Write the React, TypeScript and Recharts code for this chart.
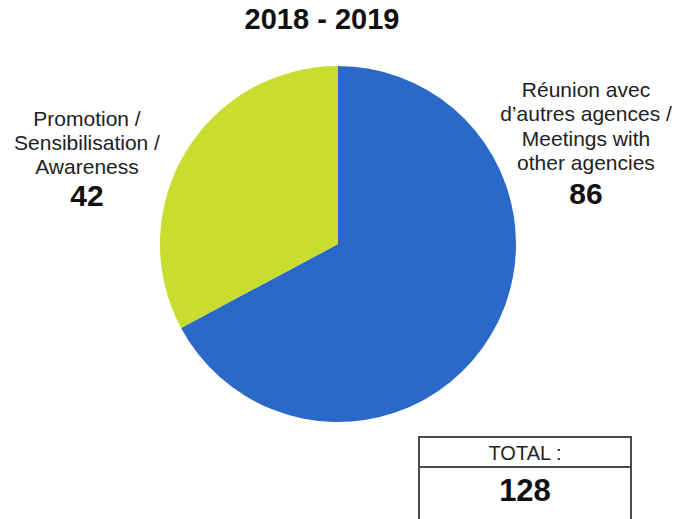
import { PieChart, Pie, Cell } from 'recharts';

const categories = [
  ['Réunion avec', 'd’autres agences /', 'Meetings with', 'other agencies'],
  ['Promotion /', 'Sensibilisation /', 'Awareness'],
];
const values = [86, 42];
const colors = ['#2B69C9', '#C9DC30'];
const title = '2018 - 2019';
const totalLabel = 'TOTAL :';

const data = categories.map((lines, i) => ({ name: lines.join(' '), lines, value: values[i] }));
const total = values.reduce((a, b) => a + b, 0);

// where each slice's text block sits (first baseline, number baseline)
const labelPos = [
  { x: 586, y: 97, step: 24.3, numY: 204 },
  { x: 87, y: 126, step: 24, numY: 206 },
];

const font = 'Liberation Sans, Arial, sans-serif';

function renderLabel(props: any) {
  const i = props.index;
  const p = labelPos[i];
  const lines: string[] = data[i].lines;
  return (
    <g key={i}>
      {lines.map((l, k) => (
        <text key={k} x={p.x} y={p.y + k * p.step} textAnchor="middle" fontFamily={font} fontSize={21} fill="#222">
          {l}
        </text>
      ))}
      <text x={p.x} y={p.numY} textAnchor="middle" fontFamily={font} fontSize={30} fontWeight="bold" fill="#111">
        {data[i].value}
      </text>
    </g>
  );
}

export default function App() {
  return (
    <div style={{ position: 'absolute', left: 0, top: 0, width: 690, height: 519, background: '#fff', fontFamily: font, overflow: 'hidden' }}>
      <div style={{ position: 'absolute', left: 0, width: 644, top: 3, textAlign: 'center', fontSize: 29, fontWeight: 'bold', color: '#111' }}>
        {title}
      </div>
      <PieChart width={690} height={519}>
        <Pie
          data={data}
          dataKey="value"
          nameKey="name"
          cx={333}
          cy={239}
          outerRadius={178}
          startAngle={90}
          endAngle={-270}
          stroke="none"
          label={renderLabel}
          labelLine={false}
          isAnimationActive={false}
        >
          {data.map((d, i) => (
            <Cell key={d.name} fill={colors[i]} />
          ))}
        </Pie>
      </PieChart>
      <div style={{ position: 'absolute', left: 418, top: 436, width: 214, height: 90, border: '2px solid #4a4a4a', boxSizing: 'border-box' }}>
        <div style={{ height: 28, borderBottom: '2px solid #4a4a4a', textAlign: 'center', fontSize: 20, lineHeight: '30px', color: '#222' }}>
          {totalLabel}
        </div>
        <div style={{ textAlign: 'center', fontSize: 31, fontWeight: 'bold', lineHeight: '46px', color: '#111' }}>{total}</div>
      </div>
    </div>
  );
}
